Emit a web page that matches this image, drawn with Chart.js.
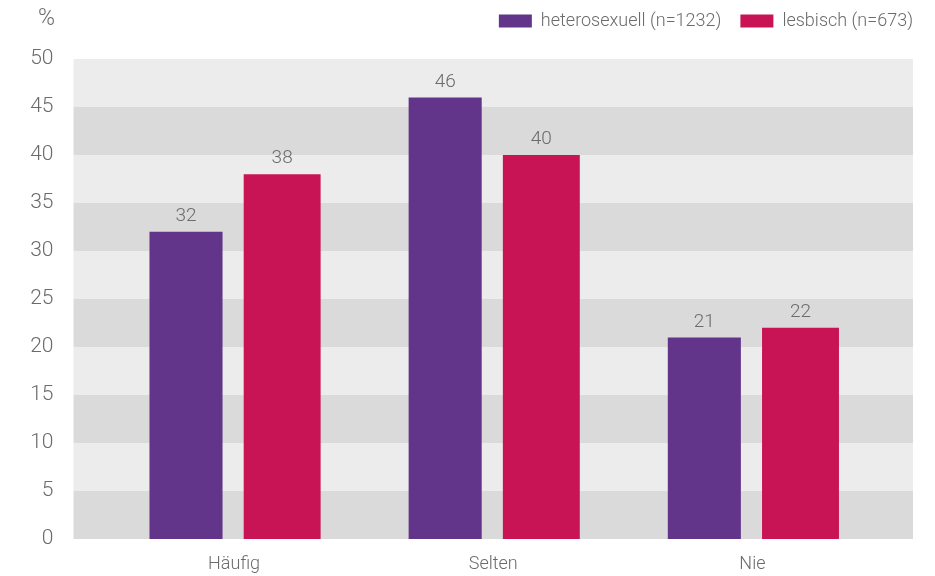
<!DOCTYPE html>
<html>
<head>
<meta charset="utf-8">
<script src="https://cdn.jsdelivr.net/npm/chart.js@4"></script>
<style>
  body { margin: 0; background: #fff; }
  canvas { display: block; }
</style>
</head>
<body>
<canvas id="chart" width="935" height="576"></canvas>
<script>
const categories = ['Häufig', 'Selten', 'Nie'];
const seriesNames = ['heterosexuell (n=1232)', 'lesbisch (n=673)'];
const hetero = [32, 46, 21];
const lesbisch = [38, 40, 22];
const yTicks = [0, 5, 10, 15, 20, 25, 30, 35, 40, 45, 50];

const textGrey = '#6b6b6b';
const fontFamily = 'Roboto, "Open Sans", sans-serif';

// striped background (wider than the category area), value labels, "%" unit
const bandsPlugin = {
  id: 'bands',
  beforeInit(chart) {
    // extra room under the legend
    const fit = chart.legend.fit;
    chart.legend.fit = function () {
      fit.call(this);
      this.height += 12;
    };
  },
  afterLayout(chart) {
    // legend sits higher and lines up with the right edge of the bands
    const lg = chart.legend;
    lg.left += 50;
    lg.right += 50;
    lg.top -= 7;
    lg.bottom -= 7;
  },
  beforeDraw(chart) {
    const { ctx, chartArea, scales } = chart;
    const y = scales.y;
    const left = chartArea.left - 31;
    const right = chartArea.right + 31;
    ctx.save();
    for (let i = 0; i < yTicks.length - 1; i++) {
      const top = y.getPixelForValue(yTicks[i + 1]);
      const bottom = y.getPixelForValue(yTicks[i]);
      ctx.fillStyle = i % 2 === 0 ? '#dadada' : '#ececec';
      ctx.fillRect(left, top, right - left, bottom - top);
    }
    ctx.restore();
  },
  afterDraw(chart) {
    const { ctx } = chart;
    ctx.save();
    ctx.fillStyle = textGrey;
    ctx.font = '300 23px ' + fontFamily;
    ctx.textAlign = 'right';
    ctx.textBaseline = 'middle';
    ctx.fillText('%', 55, 19);
    ctx.textAlign = 'center';
    ctx.font = '300 19px ' + fontFamily;
    ctx.textBaseline = 'bottom';
    chart.data.datasets.forEach((ds, di) => {
      chart.getDatasetMeta(di).data.forEach((bar, i) => {
        ctx.fillText(ds.data[i], bar.x, bar.y - 6);
      });
    });
    ctx.restore();
  }
};

new Chart(document.getElementById('chart'), {
  type: 'bar',
  data: {
    labels: categories,
    datasets: [
      {
        label: seriesNames[0],
        data: hetero,
        backgroundColor: '#62358b',
        barPercentage: 0.76,
        categoryPercentage: 0.742
      },
      {
        label: seriesNames[1],
        data: lesbisch,
        backgroundColor: '#c81454',
        barPercentage: 0.8,
        categoryPercentage: 0.742
      }
    ]
  },
  options: {
    responsive: false,
    animation: false,
    layout: { padding: { top: 0, right: 53, left: 0, bottom: 0 } },
    plugins: {
      legend: {
        position: 'top',
        align: 'end',
        labels: {
          boxWidth: 33,
          boxHeight: 13,
          padding: 19,
          color: textGrey,
          font: { family: fontFamily, size: 18, weight: '300' }
        }
      },
      tooltip: { enabled: false }
    },
    scales: {
      x: {
        grid: { display: false, drawTicks: false },
        border: { display: false },
        ticks: {
          color: textGrey,
          padding: 15,
          font: { family: fontFamily, size: 18, weight: '300' }
        },
        afterFit(scale) { scale.height = 37; }
      },
      y: {
        min: 0,
        max: 50,
        grid: { display: false, drawTicks: false },
        border: { display: false },
        ticks: {
          stepSize: 5,
          color: textGrey,
          padding: 51,
          font: { family: fontFamily, size: 21, weight: '300' }
        },
        afterFit(scale) {
          scale.width = 104.5;
          scale.paddingTop = 12;
          scale.paddingBottom = 12;
        }
      }
    }
  },
  plugins: [bandsPlugin]
});
</script>
</body>
</html>
